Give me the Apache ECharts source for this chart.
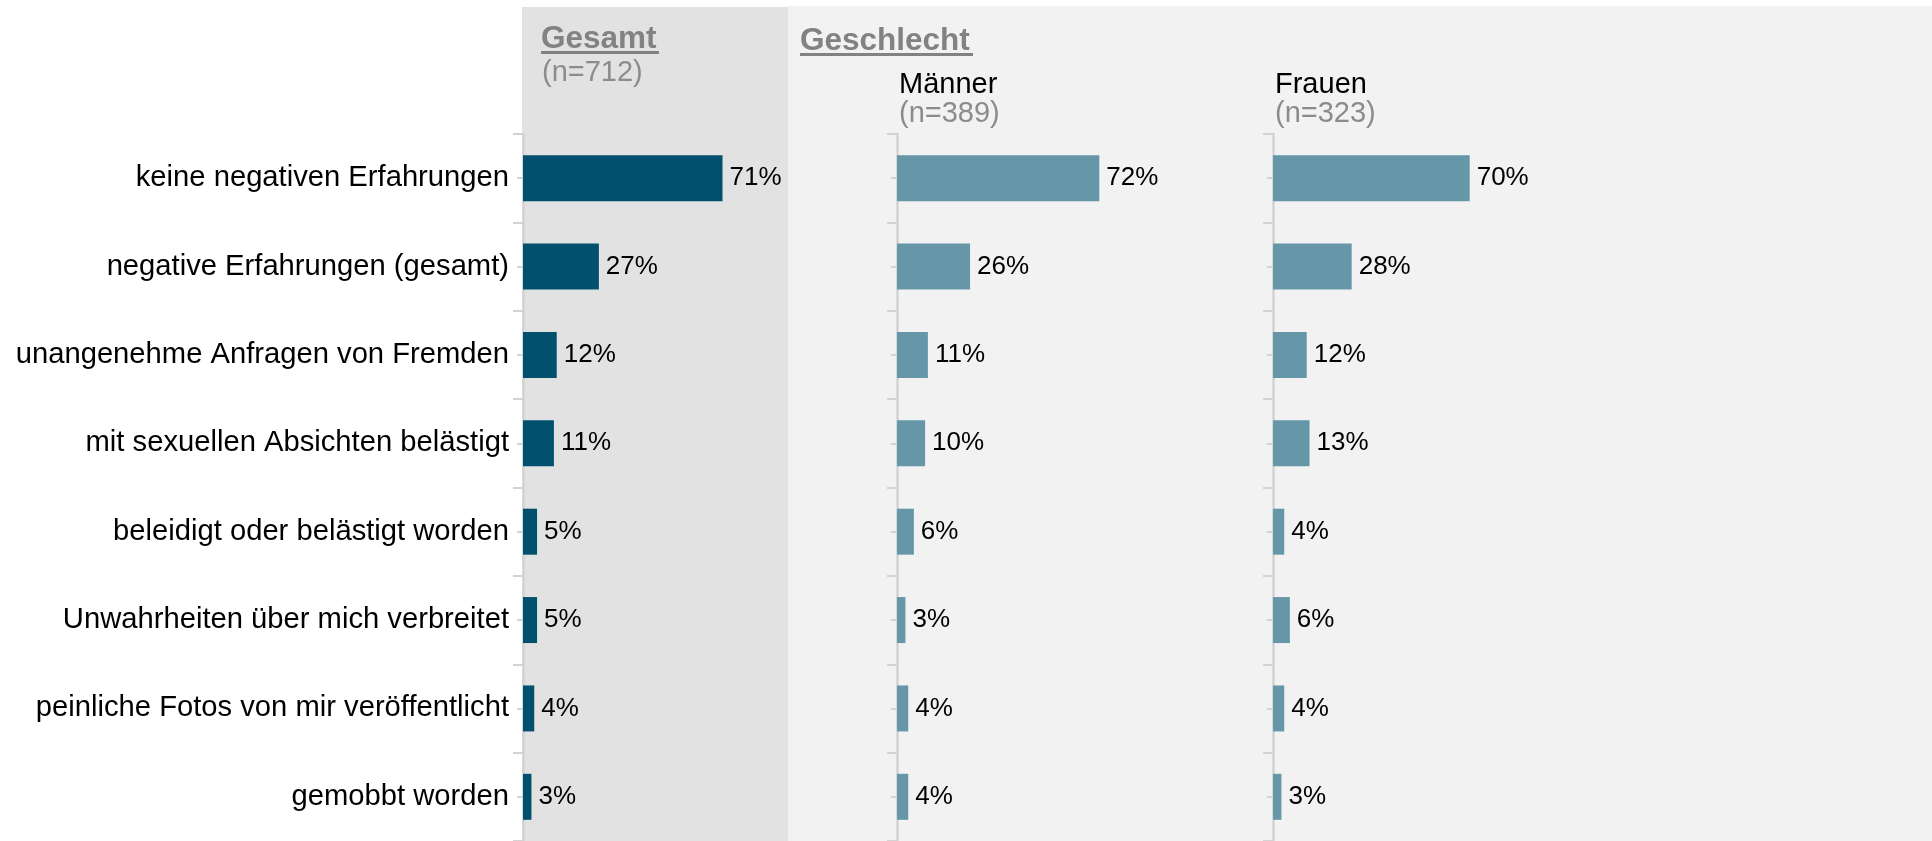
<!DOCTYPE html>
<html>
<head>
<meta charset="utf-8">
<script src="https://cdn.jsdelivr.net/npm/echarts@6/dist/echarts.min.js"></script>
<style>
html,body{margin:0;padding:0;background:#fff;}
#chart{width:1932px;height:841px;}
</style>
</head>
<body>
<div id="chart"></div>
<script>
const categories = [
  'keine negativen Erfahrungen',
  'negative Erfahrungen (gesamt)',
  'unangenehme Anfragen von Fremden',
  'mit sexuellen Absichten belästigt',
  'beleidigt oder belästigt worden',
  'Unwahrheiten über mich verbreitet',
  'peinliche Fotos von mir veröffentlicht',
  'gemobbt worden'
];
const gesamt = [71, 27, 12, 11, 5, 5, 4, 3];
const maenner = [72, 26, 11, 10, 6, 3, 4, 4];
const frauen = [70, 28, 12, 13, 4, 6, 4, 3];
const groupTitles = ['Gesamt', 'Geschlecht'];
const panelNames = ['Männer', 'Frauen'];
const panelN = ['(n=712)', '(n=389)', '(n=323)'];

const FONT = '"Liberation Sans", Arial, Helvetica, sans-serif';
const DARK = '#00506E';
const LIGHT = '#6697A9';
const AXIS = '#D3D3D3';

const panels = [
  {left: 523, data: gesamt, color: DARK},
  {left: 897, data: maenner, color: LIGHT},
  {left: 1273, data: frauen, color: LIGHT}
];

const grids = [], xAxes = [], yAxes = [], series = [];
panels.forEach((p, i) => {
  grids.push({left: p.left, top: 134, width: 281, height: 712, containLabel: false});
  xAxes.push({type: 'value', gridIndex: i, min: 0, max: 100, show: false});
  yAxes.push({
    type: 'category', gridIndex: i, data: categories, inverse: true, position: 'left',
    axisLine: {show: true, lineStyle: {color: AXIS, width: 2.5}},
    axisTick: {show: true, alignWithLabel: true, length: 6, lineStyle: {color: AXIS, width: 2}},
    axisLabel: {show: i === 0, margin: 14, fontSize: 29.2, color: '#000', fontFamily: FONT},
    splitLine: {show: false}
  });
  yAxes.push({
    type: 'category', gridIndex: i, data: categories, inverse: true, position: 'left', offset: 0,
    axisLine: {show: false},
    axisTick: {show: true, length: 10, lineStyle: {color: AXIS, width: 2}},
    axisLabel: {show: false},
    splitLine: {show: false}
  });
  series.push({
    type: 'bar', xAxisIndex: i, yAxisIndex: 2 * i, data: p.data,
    barWidth: 46, z: 3,
    itemStyle: {color: p.color},
    label: {show: true, position: 'right', distance: 7, formatter: '{c}%',
      fontSize: 26, color: '#000', fontFamily: FONT}
  });
});

function txt(x, y, text, size, color, weight) {
  return {type: 'text', x: x, y: y, silent: true, style: {
    text: text, fontSize: size, fontFamily: FONT, fontWeight: weight || 'normal',
    fill: color, textVerticalAlign: 'middle', textAlign: 'left'}};
}

const graphic = [
  {type: 'rect', z: -10, silent: true, shape: {x: 522, y: 7, width: 266, height: 834}, style: {fill: '#E2E2E2'}},
  {type: 'rect', z: -10, silent: true, shape: {x: 788, y: 6, width: 1144, height: 835}, style: {fill: '#F2F2F2'}},
  txt(541, 39, groupTitles[0], 31.5, '#828282', 'bold'),
  {type: 'rect', silent: true, shape: {x: 541, y: 51, width: 118, height: 3}, style: {fill: '#828282'}},
  txt(800, 41, groupTitles[1], 31.5, '#828282', 'bold'),
  {type: 'rect', silent: true, shape: {x: 800, y: 53, width: 173, height: 3}, style: {fill: '#828282'}},
  txt(542, 73, panelN[0], 29, '#8C8C8C'),
  txt(899, 85, panelNames[0], 29, '#000'),
  txt(899, 114, panelN[1], 29, '#8C8C8C'),
  txt(1275, 85, panelNames[1], 29, '#000'),
  txt(1275, 114, panelN[2], 29, '#8C8C8C')
];

const chart = echarts.init(document.getElementById('chart'), null, {renderer: 'canvas'});
chart.setOption({
  animation: false,
  backgroundColor: '#fff',
  textStyle: {fontFamily: FONT},
  grid: grids,
  xAxis: xAxes,
  yAxis: yAxes,
  series: series,
  graphic: graphic
});
</script>
</body>
</html>
